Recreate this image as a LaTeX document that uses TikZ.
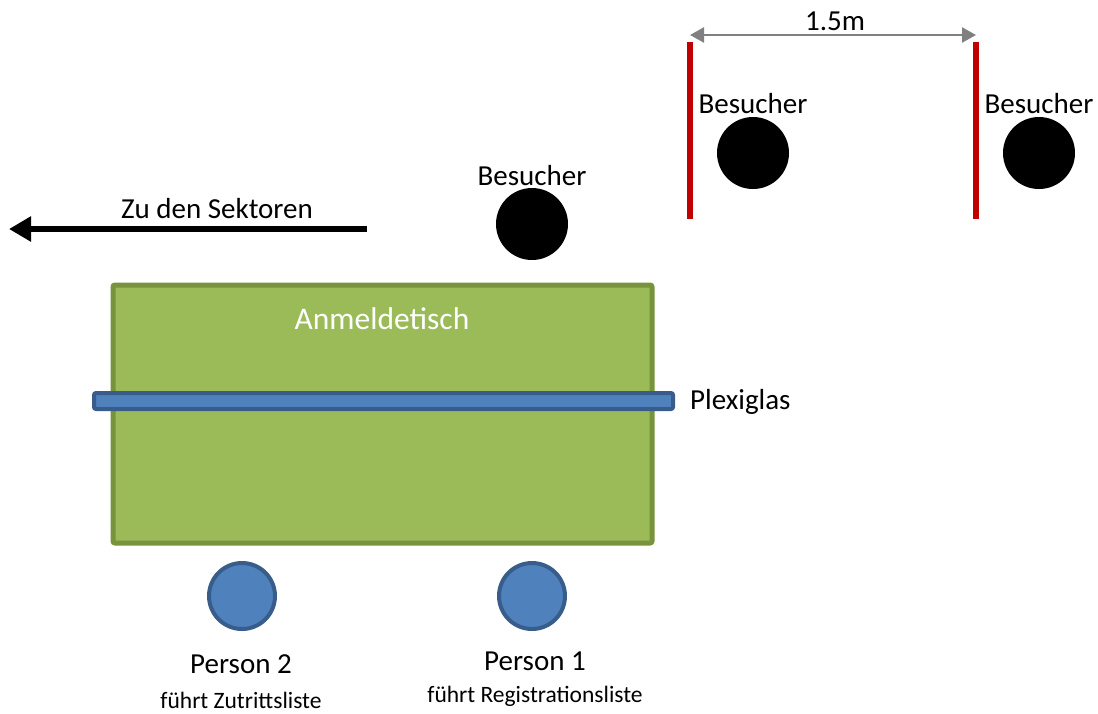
\documentclass[tikz,border=0pt]{standalone}
\usepackage{fontspec}
\setmainfont{Carlito}
\usetikzlibrary{arrows.meta}
\definecolor{tablegreen}{HTML}{9BBB59}
\definecolor{tableborder}{HTML}{77933C}
\definecolor{glassblue}{HTML}{4F81BD}
\definecolor{glassborder}{HTML}{385D8A}
\definecolor{barred}{HTML}{C00000}
\definecolor{dimgray}{HTML}{808080}
\tikzset{
  txt/.style={inner sep=0pt, font=\fontsize{29}{34}\selectfont},
  smalltxt/.style={inner sep=0pt, font=\fontsize{23.5}{28}\selectfont},
  visitor/.style={circle, fill=black, minimum size=72pt, inner sep=0pt},
  staff/.style={circle, fill=glassblue, draw=glassborder, line width=4pt, minimum size=66pt, inner sep=0pt},
  redbar/.style={draw=barred, line width=6pt},
}
\begin{document}
\begin{tikzpicture}[x=1pt,y=-1pt]
\useasboundingbox (0,0) rectangle (1098,713);
% table
\draw[fill=tablegreen, draw=tableborder, line width=5pt, rounded corners=2pt] (113,285) rectangle (652,543);
\node[txt, text=white, font=\fontsize{31.5}{36}\selectfont] (tisch) at (382,319) {Anmeldetisch};
% plexiglas
\draw[fill=glassblue, draw=glassborder, line width=4pt, rounded corners=2pt] (94,393) rectangle (673,409);
\node[txt, anchor=west] (plexi) at (690,402) {Plexiglas};
% visitors
\node[visitor] (v1) at (532,224) {};
\node[txt] (v1l) at (532,176) {Besucher};
\node[visitor] (v2) at (753,153) {};
\node[txt] (v2l) at (753,104) {Besucher};
\node[visitor] (v3) at (1039,153) {};
\node[txt] (v3l) at (1039,104) {Besucher};
% red bars
\coordinate (b1t) at (690,42);
\coordinate (b1b) at (690,219);
\coordinate (b2t) at (976,42);
\coordinate (b2b) at (976,219);
\draw[redbar] (b1t) -- (b1b);
\draw[redbar] (b2t) -- (b2b);
% dimension
\coordinate (d1) at (690,35);
\coordinate (d2) at (976,35);
\draw[dimgray, line width=2.5pt, {Triangle[length=14pt,width=15pt]}-{Triangle[length=14pt,width=15pt]}] (d1) -- (d2);
\node[txt] (dim) at (835,21) {1.5m};
% direction arrow
\coordinate (a1) at (367,229);
\coordinate (a2) at (9,229);
\draw[black, line width=6pt, -{Triangle[length=22pt,width=24pt]}] (a1) -- (a2);
\node[txt] (sekt) at (217,209) {Zu den Sektoren};
% staff
\node[staff] (p2) at (242,596) {};
\node[staff] (p1) at (532,596) {};
\node[txt] (p2l) at (241,664) {Person 2};
\node[smalltxt] (p2s) at (241,700) {führt Zutrittsliste};
\node[txt] (p1l) at (535,661) {Person 1};
\node[smalltxt] (p1s) at (535,696) {führt Registrationsliste};
\end{tikzpicture}
\end{document}
